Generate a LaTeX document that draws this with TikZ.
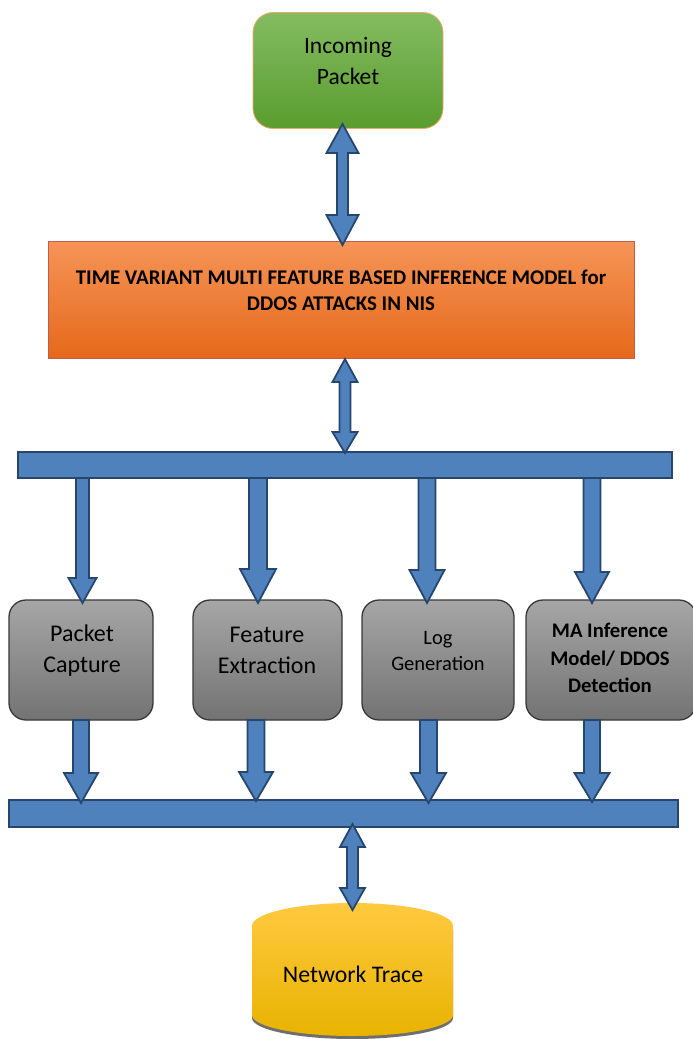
\documentclass[tikz,border=0pt]{standalone}
\usepackage{fontspec}
\setmainfont{Carlito}
\definecolor{arrowfill}{HTML}{4F81BD}
\definecolor{arrowline}{HTML}{27466E}
\definecolor{greentop}{HTML}{84BC62}
\definecolor{greenbot}{HTML}{5A9C2E}
\definecolor{greenline}{HTML}{F0A868}
\definecolor{orangetop}{HTML}{F69457}
\definecolor{orangebot}{HTML}{E5691B}
\definecolor{orangeline}{HTML}{C65A4A}
\definecolor{graytop}{HTML}{A6A6A6}
\definecolor{graybot}{HTML}{737373}
\definecolor{grayline}{HTML}{383838}
\definecolor{yellowtop}{HTML}{FFC940}
\definecolor{yellowbot}{HTML}{E8B300}
\definecolor{shadowgray}{HTML}{6E6E6E}
\tikzset{
  blockarrow/.style={draw=arrowline, fill=arrowfill, line width=1.8pt, line join=miter},
  busbar/.style={draw=arrowline, fill=arrowfill, line width=1.8pt, inner sep=0pt, minimum height=26pt},
  graybox/.style={draw=grayline, line width=1.3pt, rounded corners=17pt, top color=graytop, bottom color=graybot, minimum height=120pt, inner sep=0pt},
  lbl/.style={align=center, text=black, inner sep=0pt},
}
% x, y top, y tip, half shaft, half head, y head start
\newcommand\blkdown[6]{%
  \draw[blockarrow] (#1-#4,#2) -- (#1+#4,#2) -- (#1+#4,#6) -- (#1+#5,#6) -- (#1,#3)
    -- (#1-#5,#6) -- (#1-#4,#6) -- cycle;}
% x, y top tip, y bottom tip, half shaft, half head, y top head end, y bottom head start
\newcommand\blkdouble[7]{%
  \draw[blockarrow] (#1,#2) -- (#1+#5,#6) -- (#1+#4,#6) -- (#1+#4,#7) -- (#1+#5,#7) -- (#1,#3)
    -- (#1-#5,#7) -- (#1-#4,#7) -- (#1-#4,#6) -- (#1-#5,#6) -- cycle;}
\begin{document}
\begin{tikzpicture}[x=1pt, y=-1pt]
\useasboundingbox (0,0) rectangle (693,1039);

% Incoming packet
\node[draw=greenline, line width=0.8pt, rounded corners=20pt, top color=greentop, bottom color=greenbot,
      minimum width=190pt, minimum height=116pt, inner sep=0pt] (inc) at (348,70.5) {};
\node[lbl, font=\fontsize{23.5}{31}\selectfont] (inctxt) at (348,60.5) {Incoming\\Packet};

% Model box
\node[draw=orangeline, line width=0.8pt, top color=orangetop, bottom color=orangebot,
      minimum width=586pt, minimum height=117pt, inner sep=0pt] (model) at (341,299.5) {};
\node[lbl, font=\fontsize{20.9}{26.5}\selectfont\bfseries] (modeltxt) at (341,290.5)
  {TIME VARIANT MULTI FEATURE BASED INFERENCE MODEL for\\DDOS ATTACKS IN NIS};

% arrow incoming <-> model
\blkdouble{342.5}{124}{245}{5.5}{16}{153}{215}

% top bus
\node[busbar, minimum width=654pt] (bus1) at (345,465) {};
\blkdouble{345}{359}{453}{5.5}{12.5}{382}{432}

% gray boxes
\node[graybox, minimum width=144pt] (pc) at (81,660) {};
\node[graybox, minimum width=149pt] (fe) at (267.5,660) {};
\node[graybox, minimum width=152pt] (lg) at (438,660) {};
\node[graybox, minimum width=170pt] (ma) at (611,660) {};
\node[lbl, font=\fontsize{24}{31}\selectfont] (pctxt) at (82,650.5) {Packet\\Capture};
\node[lbl, font=\fontsize{24}{31}\selectfont] (fetxt) at (267,650.5) {Feature\\Extraction};
\node[lbl, font=\fontsize{20.5}{26}\selectfont] (lgtxt) at (438,651) {Log\\Generation};
\node[lbl, font=\fontsize{20.7}{27.5}\selectfont\bfseries] (matxt) at (610,658) {MA Inference\\Model/ DDOS\\Detection};

% arrows bus -> boxes
\blkdown{82.5}{478}{603}{6.5}{14}{578}
\blkdown{258}{478}{603}{9}{18}{569}
\blkdown{427}{478}{603}{8.5}{17.5}{570}
\blkdown{592}{478}{603}{8.5}{17}{572}

% bottom bus
\node[busbar, minimum width=669pt, minimum height=27pt] (bus2) at (343.5,813.5) {};

% arrows boxes -> bus
\blkdown{81}{720}{803}{8}{17}{773}
\blkdown{256}{720}{801}{8.5}{17}{772}
\blkdown{428.5}{720}{803}{8.5}{17.5}{773}
\blkdown{592}{720}{802}{8}{17.5}{773}

% network trace cylinder
\path[fill=shadowgray] (252,930) -- (252,1018)
  arc[start angle=180, end angle=360, x radius=100.5pt, y radius=21pt] -- (453,930) -- cycle;
\path[top color=yellowtop, bottom color=yellowbot] (252,926) -- (252,1015)
  arc[start angle=180, end angle=360, x radius=100.5pt, y radius=21pt] -- (453,926)
  arc[start angle=0, end angle=180, x radius=100.5pt, y radius=23pt] -- cycle;
\node[lbl, font=\fontsize{23.8}{31}\selectfont] (nt) at (353,974) {Network Trace};

\blkdouble{352.5}{824}{910}{5.5}{12.5}{847}{888}
\end{tikzpicture}
\end{document}
